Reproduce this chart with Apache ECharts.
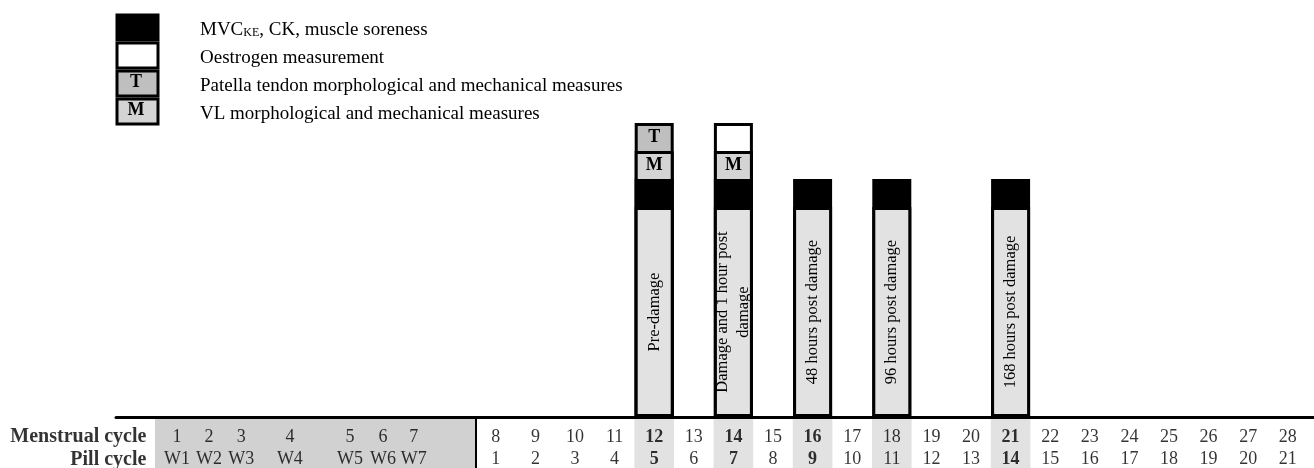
<!DOCTYPE html>
<html><head><meta charset="utf-8">
<script src="https://cdn.jsdelivr.net/npm/echarts@6/dist/echarts.min.js"></script>
<style>html,body{margin:0;padding:0;background:#fff}#c{width:1314px;height:468px}</style>
</head><body><div id="c"></div>
<script>
// ---------- data ----------
const menstrualDays = ['1','2','3','4','5','6','7','8','9','10','11','12','13','14','15','16','17','18','19','20','21','22','23','24','25','26','27','28'];
const pillDays = ['W1','W2','W3','W4','W5','W6','W7','1','2','3','4','5','6','7','8','9','10','11','12','13','14','15','16','17','18','19','20','21'];
const sessionDays = [12, 14, 16, 18, 21];          // menstrual-cycle day of each testing session
const sessionNames = ['Pre-damage', 'Damage and 1 hour post\ndamage', '48 hours post damage', '96 hours post damage', '168 hours post damage'];
const boldDays = [12, 14, 16, 21];
const mvcCK = [1, 1, 1, 1, 1];
const vlMeasures = [1, 1, 0, 0, 0];
const tendonMeasures = [1, 0, 0, 0, 0];
const oestrogenMeasures = [0, 1, 0, 0, 0];
const legendNames = ['MVC', 'Oestrogen measurement', 'Patella tendon morphological and mechanical measures', 'VL morphological and mechanical measures'];
const rowTitles = ['Menstrual cycle', 'Pill cycle'];

// ---------- layout (axis units; one column = 1 unit) ----------
const washoutSlots = [-0.05, 0.76, 1.57, 2.8, 4.32, 5.15, 5.93];
const WASHOUT_START = -0.606, WASHOUT_END = 7.5;
const X_MIN = 7.5 - 360 / 39.6, X_MAX = 7.5 + 838 / 39.6;
const Y_MIN = -51 / 28, Y_MAX = 417 / 28;
const BODY = 7.5, BOX = 1;
const ROW_M = -0.72, ROW_P = -1.52, TITLE_X = -0.81;
const FONT = '"Liberation Serif","Times New Roman",serif';
const colX = i => i < 7 ? washoutSlots[i] : i + 1;

const chart = echarts.init(document.getElementById('c'));

// each measurement box sits on top of the ones below it (drawn back-to-front)
const topOf = (...lists) => sessionDays.map((d, i) => {
  const last = lists[lists.length - 1][i];
  if (!last) return [d, '-'];
  return [d, BODY + BOX * lists.reduce((s, l) => s + l[i], 0)];
});
const boxStyle = c => ({ color: c, borderColor: '#000', borderWidth: 3 });
const letterLabel = t => ({ show: true, position: 'insideTop', distance: 4, formatter: t, fontFamily: FONT, fontSize: 18, lineHeight: 20, fontWeight: 'bold', color: '#000' });
const barBase = { type: 'bar', barWidth: 39, barGap: '-100%', silent: true };

const cellAreas = [[{ coord: [WASHOUT_START, Y_MIN], itemStyle: { color: '#d1d1d1' } }, { coord: [WASHOUT_END, -0.06] }]]
  .concat(sessionDays.map(d => [{ coord: [d - 0.5, Y_MIN], itemStyle: { color: '#e2e2e2' } }, { coord: [d + 0.5, -0.06] }]));

const rowSeries = (labels, y, withMarks) => {
  const s = {
    type: 'scatter', symbol: 'circle', symbolSize: 1, silent: true,
    itemStyle: { color: 'rgba(0,0,0,0)' },
    data: labels.map((t, i) => ({ value: [colX(i), y], label: { fontWeight: boldDays.includes(i + 1) ? 'bold' : 'normal' } })),
    label: { show: true, position: 'inside', formatter: p => labels[p.dataIndex], fontFamily: FONT, fontSize: 18, color: '#000' },
    z: 5
  };
  if (withMarks) {
    s.markArea = { silent: true, data: cellAreas };
    s.markLine = { silent: true, symbol: ['none', 'none'], label: { show: false },
      lineStyle: { color: '#000', width: 2, type: 'solid' },
      data: [[{ coord: [WASHOUT_END, Y_MIN] }, { coord: [WASHOUT_END, 0] }]] };
  }
  return s;
};

chart.setOption({
  animation: false,
  tooltip: { show: false },
  grid: { left: 116, right: 0, top: 0, bottom: 0 },
  xAxis: { type: 'value', min: X_MIN, max: X_MAX, z: 10,
    axisLine: { show: true, onZero: true, lineStyle: { color: '#000', width: 3 } },
    axisTick: { show: false }, axisLabel: { show: false }, splitLine: { show: false } },
  yAxis: { type: 'value', min: Y_MIN, max: Y_MAX, show: false, splitLine: { show: false } },
  legend: {
    orient: 'vertical', left: 115.5, top: 13.5, padding: 0, itemGap: 0,
    itemWidth: 41, itemHeight: 25, icon: 'rect', selectedMode: false,
    data: legendNames.map(n => ({ name: n, itemStyle: { borderColor: '#000', borderWidth: 3 } })),
    formatter: n => n === 'MVC' ? '{sp| }{t|MVC}{sub|KE}{t|, CK, muscle soreness}' : '{sp| }{t|' + n + '}',
    textStyle: { color: '#000', fontFamily: FONT, fontSize: 19,
      rich: {
        sp: { width: 37, fontSize: 19, lineHeight: 22 },
        t: { fontFamily: FONT, fontSize: 19, lineHeight: 22, color: '#000', padding: [5, 0, 0, 0] },
        sub: { fontFamily: FONT, fontSize: 12, lineHeight: 12, color: '#000', verticalAlign: 'bottom' }
      } }
  },
  graphic: [
    { type: 'text', x: 136, y: 82, z: 100, silent: true, style: { text: 'T', fontFamily: FONT, fontSize: 18, fontWeight: 'bold', fill: '#000', align: 'center', verticalAlign: 'middle' } },
    { type: 'text', x: 136, y: 110, z: 100, silent: true, style: { text: 'M', fontFamily: FONT, fontSize: 18, fontWeight: 'bold', fill: '#000', align: 'center', verticalAlign: 'middle' } }
  ],
  series: [
    Object.assign({ name: legendNames[1], data: topOf(mvcCK, vlMeasures, oestrogenMeasures), itemStyle: boxStyle('#ffffff') }, barBase),
    Object.assign({ name: legendNames[2], data: topOf(mvcCK, vlMeasures, tendonMeasures), itemStyle: boxStyle('#bfbfbf'), label: letterLabel('T') }, barBase),
    Object.assign({ name: legendNames[3], data: topOf(mvcCK, vlMeasures), itemStyle: boxStyle('#d4d4d4'), label: letterLabel('M') }, barBase),
    Object.assign({ name: 'MVC', data: topOf(mvcCK), itemStyle: boxStyle('#000') }, barBase),
    Object.assign({ name: 'session', data: sessionDays.map(d => [d, BODY]), itemStyle: boxStyle('#e2e2e2'),
      label: { show: true, position: 'inside', rotate: 90, formatter: p => sessionNames[p.dataIndex],
        fontFamily: FONT, fontSize: 16.5, lineHeight: 21, color: '#000', align: 'center', verticalAlign: 'middle' } }, barBase),
    rowSeries(menstrualDays, ROW_M, true),
    rowSeries(pillDays, ROW_P, false),
    { type: 'scatter', symbol: 'circle', symbolSize: 1, silent: true, itemStyle: { color: 'rgba(0,0,0,0)' },
      data: [[TITLE_X, ROW_M], [TITLE_X, ROW_P]],
      label: { show: true, position: 'left', distance: 0, formatter: p => rowTitles[p.dataIndex],
        fontFamily: FONT, fontSize: 20, fontWeight: 'bold', color: '#000' }, z: 5 }
  ]
});
</script></body></html>
